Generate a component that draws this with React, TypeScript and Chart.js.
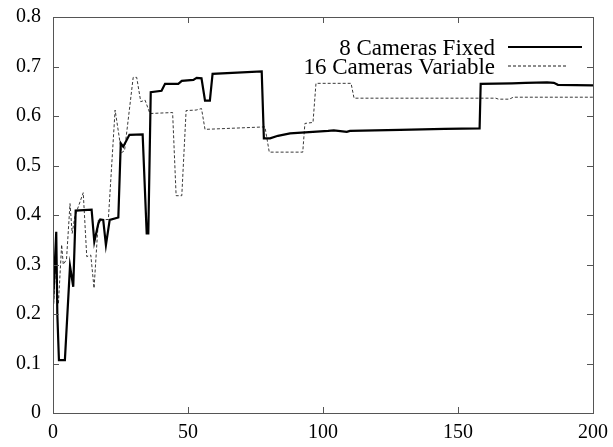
import React, { useEffect, useRef } from "react";
import { Chart, registerables } from "chart.js";

Chart.register(...registerables);

const fixedX = [0, 1.2, 1.6, 2.2, 4.4, 6.3, 7.5, 8.4, 14.3, 15.3, 16.8, 17.5, 18.6, 19.6, 21, 24.2, 25.1, 26, 28.3, 33.2, 34.7, 35.3, 36.2, 40.2, 41.5, 46.4, 47.7, 52, 53.2, 55, 56.3, 58.1, 59.1, 77.3, 78.1, 80.4, 83.3, 87.8, 101.9, 104, 108.8, 110, 128.5, 145, 158, 158.4, 170, 175, 183, 185.5, 187, 200];
const fixedY = [0.22, 0.366, 0.2, 0.107, 0.107, 0.297, 0.255, 0.409, 0.411, 0.346, 0.383, 0.391, 0.39, 0.339, 0.39, 0.395, 0.545, 0.538, 0.562, 0.563, 0.363, 0.363, 0.648, 0.651, 0.665, 0.665, 0.671, 0.673, 0.677, 0.676, 0.631, 0.631, 0.685, 0.69, 0.555, 0.555, 0.56, 0.565, 0.57, 0.571, 0.568, 0.57, 0.572, 0.574, 0.575, 0.665, 0.666, 0.667, 0.668, 0.667, 0.663, 0.662];

const varX = [0, 1, 2, 3.2, 3.8, 5, 6.3, 7.1, 8.1, 11.2, 12.5, 14, 15.2, 16.8, 20.5, 23, 25.4, 26.5, 29.7, 31, 32.5, 34.1, 35.9, 44.3, 45.6, 47.7, 49.3, 53, 55, 56.3, 78.5, 80.1, 92.5, 93.3, 96.3, 97.4, 110.4, 111.5, 164, 165, 169, 170.5, 200];
const varY = [0.2, 0.3, 0.22, 0.34, 0.3, 0.31, 0.423, 0.363, 0.397, 0.445, 0.316, 0.319, 0.252, 0.39, 0.391, 0.612, 0.526, 0.53, 0.678, 0.678, 0.629, 0.632, 0.605, 0.607, 0.439, 0.439, 0.611, 0.612, 0.615, 0.573, 0.578, 0.527, 0.527, 0.585, 0.587, 0.666, 0.666, 0.636, 0.636, 0.634, 0.634, 0.638, 0.638];

const seriesNames = ["8 Cameras Fixed", "16 Cameras Variable"];
const xTicks = [0, 50, 100, 150, 200];
const yTicks = [0, 0.1, 0.2, 0.3, 0.4, 0.5, 0.6, 0.7, 0.8];
const xTickLabels = ["0", "50", "100", "150", "200"];
const yTickLabels = ["0", "0.1", "0.2", "0.3", "0.4", "0.5", "0.6", "0.7", "0.8"];

const FONT = '"Liberation Serif", "Times New Roman", serif';

const toPts = (xs: number[], ys: number[]) => xs.map((x, i) => ({ x, y: ys[i] }));

const framePlugin = {
  id: "frame",
  afterDraw(chart: any) {
    const { ctx, chartArea: a, scales } = chart;
    ctx.save();
    ctx.strokeStyle = "#555";
    ctx.lineWidth = 1;
    ctx.strokeRect(Math.round(a.left) + 0.5, Math.round(a.top) + 0.5, Math.round(a.right - a.left), Math.round(a.bottom - a.top));
    const tl = 6;
    ctx.beginPath();
    for (const v of xTicks) {
      const px = Math.round(scales.x.getPixelForValue(v)) + 0.5;
      ctx.moveTo(px, a.bottom);
      ctx.lineTo(px, a.bottom - tl);
      ctx.moveTo(px, a.top);
      ctx.lineTo(px, a.top + tl);
    }
    for (const v of yTicks) {
      const py = Math.round(scales.y.getPixelForValue(v)) + 0.5;
      ctx.moveTo(a.left, py);
      ctx.lineTo(a.left + tl, py);
      ctx.moveTo(a.right, py);
      ctx.lineTo(a.right - tl, py);
    }
    ctx.stroke();

    ctx.font = `20px ${FONT}`;
    ctx.fillStyle = "#000";
    // tick labels
    ctx.textAlign = "right";
    ctx.textBaseline = "middle";
    yTicks.forEach((v, i) => {
      ctx.fillText(yTickLabels[i], a.left - 12, scales.y.getPixelForValue(v));
    });
    ctx.textAlign = "center";
    ctx.textBaseline = "middle";
    xTicks.forEach((v, i) => {
      ctx.fillText(xTickLabels[i], scales.x.getPixelForValue(v), a.bottom + 20);
    });

    // legend
    ctx.font = `23px ${FONT}`;
    ctx.textAlign = "right";
    ctx.textBaseline = "middle";
    const textRight = a.right - 98;
    const s0 = a.right - 85;
    const ends = [a.right - 11, a.right - 25];
    const rows = [a.top + 30, a.top + 49];
    chart.data.datasets.forEach((ds: any, i: number) => {
      ctx.fillText(seriesNames[i], textRight, rows[i] + 2);
      ctx.beginPath();
      ctx.strokeStyle = "#000";
      ctx.lineWidth = ds.borderWidth;
      ctx.setLineDash(ds.borderDash || []);
      ctx.moveTo(s0, rows[i]);
      ctx.lineTo(ends[i], rows[i]);
      ctx.stroke();
      ctx.setLineDash([]);
    });
    ctx.restore();
  },
};

export default function App() {
  const ref = useRef<HTMLCanvasElement>(null);
  useEffect(() => {
    if (!ref.current) return;
    const chart = new Chart(ref.current, {
      type: "line",
      data: {
        datasets: [
          {
            label: seriesNames[0],
            data: toPts(fixedX, fixedY),
            borderColor: "#000",
            borderWidth: 2.2,
            pointRadius: 0,
            tension: 0,
          },
          {
            label: seriesNames[1],
            data: toPts(varX, varY),
            borderColor: "#222",
            borderWidth: 0.9,
            borderDash: [3, 2],
            pointRadius: 0,
            tension: 0,
          },
        ],
      },
      options: {
        animation: false,
        responsive: false,
        layout: { autoPadding: false, padding: { top: 17, right: 20, left: 0, bottom: 0 } },
        plugins: { legend: { display: false }, tooltip: { enabled: false } },
        scales: {
          x: {
            type: "linear",
            min: 0,
            max: 200,
            afterFit: (s: any) => { s.height = 34; },
            grid: { display: false, drawTicks: false },
            border: { display: false },
            ticks: { display: false },
          },
          y: {
            type: "linear",
            min: 0,
            max: 0.8,
            afterFit: (s: any) => { s.width = 53; },
            grid: { display: false, drawTicks: false },
            border: { display: false },
            ticks: { display: false },
          },
        },
      },
      plugins: [framePlugin],
    });
    return () => chart.destroy();
  }, []);
  return (
    <div style={{ position: "fixed", left: 0, top: 0, width: 613, height: 447, background: "#fff" }}>
      <canvas ref={ref} width={613} height={447} style={{ width: 613, height: 447 }} />
    </div>
  );
}
